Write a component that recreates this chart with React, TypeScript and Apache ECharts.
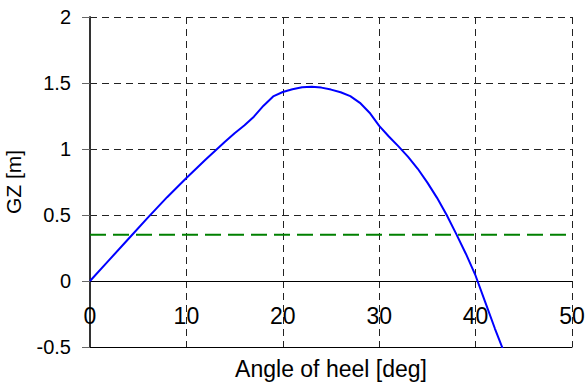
import React, { useEffect, useRef } from "react";
import * as echarts from "echarts";

const angles = [0, 2, 4, 6, 8, 10, 12, 14, 15, 16, 17, 18, 19, 20, 21, 22, 23, 24, 25, 26, 27, 28, 29, 30, 31, 32, 33, 34, 35, 36, 37, 38, 39, 40, 41, 42, 42.8];
const gz = [0, 0.16, 0.32, 0.48, 0.635, 0.78, 0.92, 1.055, 1.12, 1.178, 1.245, 1.328, 1.398, 1.432, 1.453, 1.468, 1.472, 1.465, 1.45, 1.43, 1.4, 1.35, 1.275, 1.175, 1.095, 1.02, 0.94, 0.85, 0.745, 0.63, 0.5, 0.355, 0.205, 0.04, -0.16, -0.36, -0.51];
const criterionX = [0, 50];
const criterionY = [0.35, 0.35];
const xTicks = { min: 0, max: 50, interval: 10 };
const yTicks = { min: -0.5, max: 2, interval: 0.5 };

const FONT = "'Liberation Sans', Arial, sans-serif";

export default function App() {
  const ref = useRef<HTMLDivElement>(null);
  useEffect(() => {
    if (!ref.current) return;
    const chart = echarts.init(ref.current, null, { renderer: "svg" });
    const grid = "#222";
    chart.setOption({
      animation: false,
      backgroundColor: "#fff",
      grid: { left: 90, right: 14, top: 17, bottom: 38, containLabel: false, outerBoundsMode: "none" },
      xAxis: [
        {
          type: "value",
          min: xTicks.min,
          max: xTicks.max,
          interval: xTicks.interval,
          position: "bottom",
          name: "Angle of heel [deg]",
          nameLocation: "middle",
          nameGap: 10,
          nameTextStyle: { fontFamily: FONT, fontSize: 23, color: "#000", verticalAlign: "top" },
          axisLine: { show: true, onZero: false, lineStyle: { color: "#000", width: 1 } },
          axisTick: { show: false },
          axisLabel: { inside: true, fontFamily: FONT, fontSize: 23, color: "#000", margin: 20 },
          splitLine: { show: true, lineStyle: { color: grid, type: [7, 5], width: 1 } },
        },
        {
          type: "value",
          min: xTicks.min,
          max: xTicks.max,
          position: "bottom",
          axisLine: { show: true, onZero: true, lineStyle: { color: "#000", width: 1 } },
          axisTick: { show: false },
          axisLabel: { show: false },
          splitLine: { show: false },
        },
      ],
      yAxis: {
        type: "value",
        min: yTicks.min,
        max: yTicks.max,
        interval: yTicks.interval,
        name: "GZ [m]",
        nameLocation: "middle",
        nameGap: 66,
        nameTextStyle: { fontFamily: FONT, fontSize: 21, color: "#000" },
        axisLine: { show: true, onZero: false, lineStyle: { color: "#333", width: 2 } },
        axisTick: { show: true, inside: false, length: 8, lineStyle: { color: "#666", width: 1 } },
        axisLabel: {
          fontFamily: FONT,
          fontSize: 20,
          color: "#000",
          margin: 19,
          formatter: (v: number) => String(v),
        },
        splitLine: { show: true, lineStyle: { color: grid, type: [7, 5], width: 1 } },
      },
      series: [
        {
          type: "line",
          xAxisIndex: 0,
          data: angles.map((a, i) => [a, gz[i]]),
          showSymbol: false,
          smooth: false,
          lineStyle: { color: "#0000ff", width: 2 },
          clip: true,
        },
        {
          type: "line",
          xAxisIndex: 0,
          data: criterionX.map((a, i) => [a, criterionY[i]]),
          showSymbol: false,
          lineStyle: { color: "#008000", width: 2, type: [16, 7] },
        },
      ],
    });
    return () => chart.dispose();
  }, []);
  return (
    <div
      ref={ref}
      style={{ position: "absolute", left: 0, top: 0, width: 586, height: 385, background: "#fff" }}
    />
  );
}
